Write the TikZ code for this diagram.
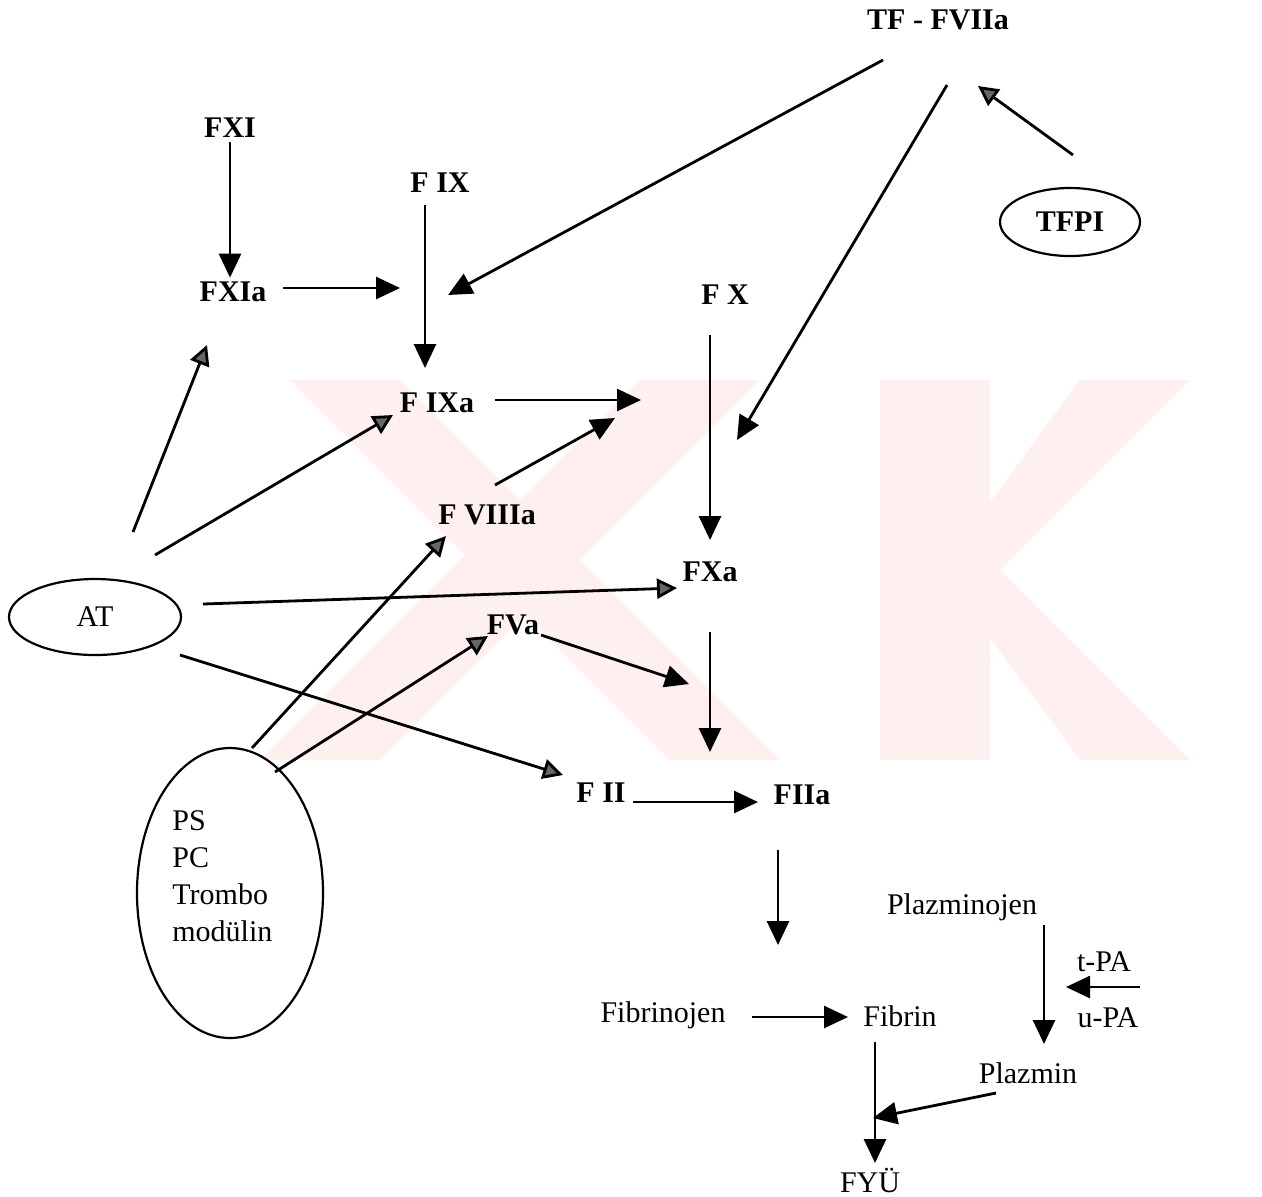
\documentclass[tikz,border=0pt]{standalone}
\usepackage{fontspec}
\setmainfont{Liberation Serif}
\usetikzlibrary{arrows.meta, positioning, shapes.geometric}

\begin{document}
\begin{tikzpicture}[
  x=0.5pt, y=-0.5pt,
  fac/.style={font=\fontsize{15}{17}\selectfont\bfseries, inner sep=2pt},
  txt/.style={font=\fontsize{15}{17}\selectfont, inner sep=2pt},
  oval/.style={draw, ellipse, line width=1.1pt, inner sep=0pt},
  arr/.style={-{Triangle[length=12pt, width=11pt]}, line width=1.4pt},
  inh/.style={-{Triangle[length=10pt, width=10pt, fill=black!60]}, line width=1.4pt},
  wmark/.style={fill=red!6, draw=none}
]
  \useasboundingbox (0,0) rectangle (1262,1196);

  % watermark in the back
  \fill[wmark] (290,380) -- (400,380) -- (780,760) -- (670,760) -- cycle;
  \fill[wmark] (640,380) -- (760,380) -- (380,760) -- (260,760) -- cycle;
  \fill[wmark] (880,380) -- (990,380) -- (990,760) -- (880,760) -- cycle;
  \fill[wmark] (1080,380) -- (1190,380) -- (1000,570) -- (1190,760) -- (1080,760) -- (940,570) -- cycle;

  % extrinsic / intrinsic factors
  \node[fac] (tf)    at (938,20)  {TF - FVIIa};
  \node[fac] (fxi)   at (230,128) {FXI};
  \node[fac] (fix)   at (440,183) {F IX};
  \node[fac] (fxia)  at (233,292) {FXIa};
  \node[oval, minimum width=70pt, minimum height=34pt] (tfpi) at (1070,222) {};
  \node[fac] at (tfpi) {TFPI};
  \node[fac] (fx)    at (725,295) {F X};
  \node[fac] (fixa)  at (437,403) {F IXa};
  \node[fac] (fviiia) at (487,515) {F VIIIa};
  \node[fac] (fxa)   at (710,572) {FXa};
  \node[fac] (fva)   at (513,625) {FVa};
  \node[fac] (fii)   at (601,793) {F II};
  \node[fac] (fiia)  at (802,795) {FIIa};

  % inhibitors
  \node[oval, minimum width=86pt, minimum height=38pt] (at) at (95,617) {};
  \node[txt] at (at) {AT};
  \node[oval, minimum width=93pt, minimum height=145pt] (ps) at (230,893) {};
  \node[txt, anchor=west, align=left, font=\fontsize{15}{18.5}\selectfont] (pstxt) at (168,876) {PS\\PC\\Trombo\\modülin};

  % fibrinolysis
  \node[txt] (plg) at (962,907)  {Plazminojen};
  \node[txt] (tpa) at (1104,962) {t-PA};
  \node[txt] (upa) at (1108,1018) {u-PA};
  \node[txt] (fbg) at (663,1015) {Fibrinojen};
  \node[txt] (fbn) at (900,1016) {Fibrin};
  \node[txt] (plm) at (1028,1073) {Plazmin};
  \node[txt] (fyu) at (870,1180) {FYÜ};

  % free ends of the arrows
  \coordinate (xiaout) at (283,288);
  \coordinate (ixin)  at (400,288);
  \coordinate (ixtop) at (425,205);
  \coordinate (ixbot) at (425,368);
  \coordinate (tfl)   at (883,60);
  \coordinate (tfr)   at (947,85);
  \coordinate (ixtf)  at (448,295);
  \coordinate (xtf)   at (737,440);
  \coordinate (tfpiout) at (1073,155);
  \coordinate (tfin)  at (978,86);
  \coordinate (ixaout) at (495,400);
  \coordinate (xin)   at (641,400);
  \coordinate (viiiout) at (495,485);
  \coordinate (xin2)  at (615,418);
  \coordinate (xtop)  at (710,335);
  \coordinate (xbot)  at (710,540);
  \coordinate (at1) at (133,532);
  \coordinate (at2) at (155,555);
  \coordinate (at3) at (203,604);
  \coordinate (at4) at (180,655);
  \coordinate (atxia) at (207,345);
  \coordinate (atixa) at (393,415);
  \coordinate (atxa)  at (677,588);
  \coordinate (atii)  at (563,775);
  \coordinate (ps1) at (252,748);
  \coordinate (ps2) at (275,772);
  \coordinate (psviii) at (446,536);
  \coordinate (psva)   at (488,636);
  \coordinate (vaout) at (541,635);
  \coordinate (iiin)  at (689,684);
  \coordinate (xatop) at (710,632);
  \coordinate (xabot) at (710,752);
  \coordinate (iiout) at (633,802);
  \coordinate (iiain) at (758,802);
  \coordinate (iiatop) at (778,850);
  \coordinate (iiabot) at (778,945);
  \coordinate (fbgout) at (752,1017);
  \coordinate (fbnin)  at (848,1017);
  \coordinate (plgtop) at (1044,925);
  \coordinate (plgbot) at (1044,1044);
  \coordinate (paout) at (1140,987);
  \coordinate (pain)  at (1066,987);
  \coordinate (fbntop) at (875,1042);
  \coordinate (fbnbot) at (875,1163);
  \coordinate (plmout) at (996,1093);
  \coordinate (plmin)  at (873,1118);

  % cascade
  \draw[arr] (fxi) -- (fxi |- fxia.north);
  \draw[arr] (xiaout) -- (ixin);
  \draw[arr] (ixtop) -- (ixbot);
  \draw[arr] (tfl) -- (ixtf);
  \draw[arr] (tfr) -- (xtf);
  \draw[inh] (tfpiout) -- (tfin);
  \draw[arr] (ixaout) -- (xin);
  \draw[arr] (viiiout) -- (xin2);
  \draw[arr] (xtop) -- (xbot);
  \draw[arr] (vaout) -- (iiin);
  \draw[arr] (xatop) -- (xabot);
  \draw[arr] (iiout) -- (iiain);
  \draw[arr] (iiatop) -- (iiabot);

  % AT, PS/PC
  \draw[inh] (at1) -- (atxia);
  \draw[inh] (at2) -- (atixa);
  \draw[inh] (at3) -- (atxa);
  \draw[inh] (at4) -- (atii);
  \draw[inh] (ps1) -- (psviii);
  \draw[inh] (ps2) -- (psva);

  % fibrin, plasmin
  \draw[arr] (fbgout) -- (fbnin);
  \draw[arr] (plgtop) -- (plgbot);
  \draw[arr] (paout) -- (pain);
  \draw[arr] (fbntop) -- (fbnbot);
  \draw[arr] (plmout) -- (plmin);
\end{tikzpicture}
\end{document}
